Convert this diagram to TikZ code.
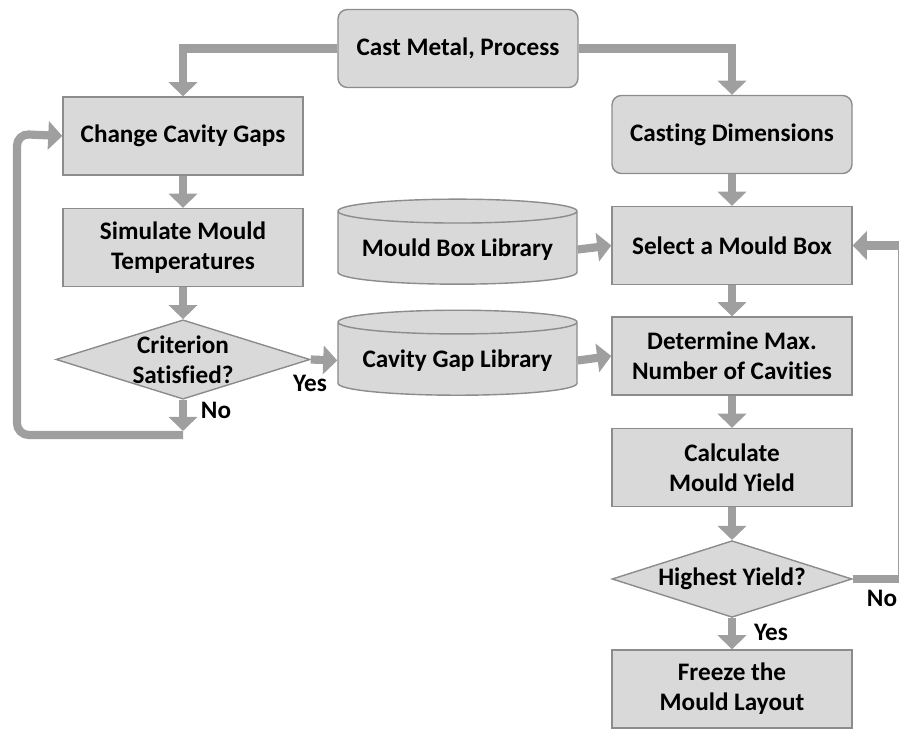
\documentclass[tikz,border=0pt]{standalone}
\usepackage{fontspec}
\setmainfont[Ligatures=NoCommon]{Carlito}
\usepackage{tikz}
\usetikzlibrary{shapes.geometric,arrows.meta}

\begin{document}
\begin{tikzpicture}[x=0.03cm, y=-0.03cm,
    every node/.style={font=\fontsize{21.5}{25.6}\selectfont\bfseries, align=center},
    procbox/.style={rectangle, draw=gray!90, line width=1.2pt, fill=gray!30,
      minimum width=7.2cm, minimum height=2.34cm, inner sep=2pt},
    roundbox/.style={procbox, rounded corners=8pt},
    libdrum/.style={cylinder, shape border rotate=90, aspect=0.12, draw=gray!90,
      line width=1.2pt, fill=gray!30, minimum width=7.17cm, minimum height=2.55cm},
    decision/.style={diamond, aspect=3.2, draw=gray!90, line width=1.2pt, fill=gray!30,
      minimum width=7.2cm, minimum height=2.3cm, inner sep=0pt},
    flow/.style={draw=gray!75, line width=7pt,
      -{Triangle[width=24pt, length=12pt]}},
    plain/.style={draw=gray!75, line width=7pt, rounded corners=10pt}]
    \clip (0,0) rectangle (899,729);

    % Start and the two branches.
    \node[roundbox] (cast) at (458,48.5) {Cast Metal, Process};
    \node[procbox] (change) at (183,136) {Change Cavity Gaps};
    \node[roundbox] (dims) at (732,134.5) {Casting Dimensions};

    % Left column: cavity gap loop.
    \node[procbox] (sim) at (183,247.5) {Simulate Mould\\Temperatures};
    \node[decision] (crit) at (183,359.5) {Criterion\\Satisfied?};

    % Libraries.
    \node[libdrum] (boxlib) at (457.5,249.5) {\raisebox{-4pt}{Mould Box Library}};
    \node[libdrum] (gaplib) at (457.5,360.5) {\raisebox{-4pt}{Cavity Gap Library}};

    % Right column: mould layout.
    \node[procbox] (select) at (732,245.5) {Select a Mould Box};
    \node[procbox] (maxcav) at (732,356) {Determine Max.\\Number of Cavities};
    \node[procbox] (yield) at (732,467.5) {Calculate\\Mould Yield};
    \node[decision] (best) at (732,579) {Highest Yield?};
    \node[procbox] (freeze) at (732,689) {Freeze the\\Mould Layout};

    % Answer labels.
    \node (crityes) at (310,383) {Yes};
    \node (critno) at (216,410) {No};
    \node (bestno) at (882,598) {No};
    \node (bestyes) at (771,632) {Yes};

    % Free ends of the loops.
    \coordinate (noend) at (183,431);
    \coordinate (loopstart) at (183,435);
    \coordinate (edge) at (902,579);

    % Connectors.
    \draw[flow] (cast.west) -| (change.north);
    \draw[flow] (cast.east) -| (dims.north);
    \draw[flow] (change) -- (sim);
    \draw[flow] (sim) -- (crit);
    \draw[flow] (crit.east) -- (gaplib.west);
    \draw[flow] (crit.south) -- (noend);
    \draw[plain, -{Triangle[width=24pt, length=12pt]}]
      (loopstart) -- (17,435) -- (17,134) -- (change.west);
    \draw[flow] (boxlib.east) -- (select.west);
    \draw[flow] (gaplib.east) -- (maxcav.west);
    \draw[flow] (dims) -- (select);
    \draw[flow] (select) -- (maxcav);
    \draw[flow] (maxcav) -- (yield);
    \draw[flow] (yield) -- (best);
    \draw[flow] (best) -- (freeze);
    \draw[flow] (best.east) -- (edge) |- (select.east);
\end{tikzpicture}
\end{document}
